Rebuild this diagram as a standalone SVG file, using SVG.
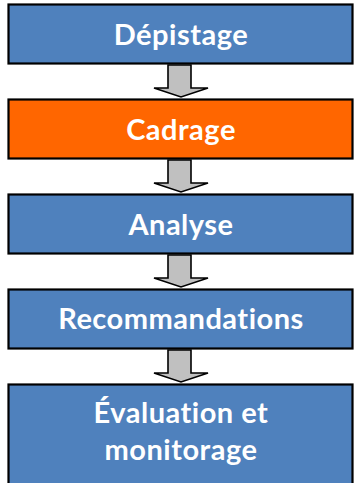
<svg xmlns="http://www.w3.org/2000/svg" width="355" height="483" viewBox="0 0 355 483">
<style>
.box{fill:#4F81BD;stroke:#000;stroke-width:2.2}
.orange{fill:#FF6600}
.lbl{font-family:Lato,"Open Sans","Liberation Sans",sans-serif;font-weight:bold;font-size:29px;letter-spacing:0.5px;fill:#fff;text-anchor:middle}
.arr{fill:#C0C0C0;stroke:#000;stroke-width:1.6;stroke-linejoin:miter}
</style>
<defs>
<path id="a" d="M168,0 H191 V23 H208 L181,32 L154,23 H168 Z"/>
</defs>
<g id="connectors">
<use href="#a" class="arr" transform="translate(0,65)"/>
<use href="#a" class="arr" transform="translate(0,160)"/>
<use href="#a" class="arr" transform="translate(0,255)"/>
<use href="#a" class="arr" transform="translate(0,350)"/>
</g>
<g id="depistage"><rect class="box" x="8.5" y="4.5" width="344" height="59"/><text class="lbl" x="181" y="45">Dépistage</text></g>
<g id="cadrage"><rect class="box orange" x="8.5" y="99.5" width="344" height="59"/><text class="lbl" x="181" y="140">Cadrage</text></g>
<g id="analyse"><rect class="box" x="8.5" y="194.5" width="344" height="59"/><text class="lbl" x="181" y="235">Analyse</text></g>
<g id="recommandations"><rect class="box" x="8.5" y="289.5" width="344" height="59"/><text class="lbl" x="181" y="329">Recommandations</text></g>
<g id="evaluation"><rect class="box" x="8.5" y="384.5" width="344" height="110"/><text class="lbl" x="181" y="423">Évaluation et</text><text class="lbl" x="181" y="460">monitorage</text></g>
</svg>
